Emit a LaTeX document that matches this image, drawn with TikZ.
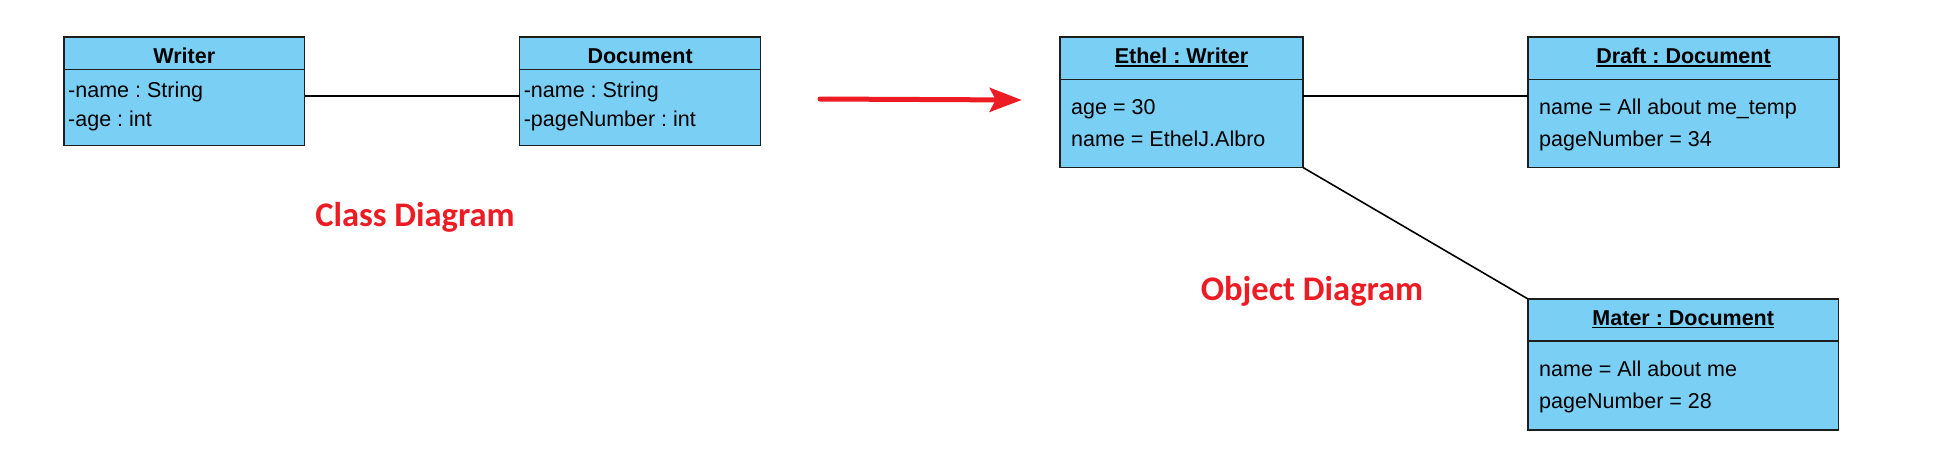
\documentclass[tikz,border=0pt]{standalone}
\usepackage{fontspec}
\setmainfont{Liberation Sans}
\newfontfamily\labelfont{Carlito}
\usetikzlibrary{arrows.meta}
\definecolor{umlblue}{RGB}{122,207,245}
\definecolor{boxdraw}{RGB}{30,30,30}
\definecolor{redc}{RGB}{237,28,36}
\tikzset{
 umlbox/.style={draw=boxdraw, fill=umlblue, line width=1.5pt, outer sep=0pt, inner sep=0pt, anchor=north west},
 divider/.style={draw=boxdraw, line width=1.5pt},
 ttl/.style={font=\frenchspacing\bfseries\fontsize{21.5}{25}\selectfont, inner sep=0pt, anchor=base},
 attr/.style={font=\frenchspacing\fontsize{21.5}{25}\selectfont, inner sep=0pt, anchor=base west},
 assoc/.style={draw=black, line width=1.6pt},
 ulin/.style={draw=black, line width=1.5pt},
 caption/.style={font=\labelfont\bfseries\fontsize{34.5}{40}\selectfont, text=redc, inner sep=0pt, anchor=base},
 convert/.style={draw=redc, line width=5pt, line cap=round, -{Stealth[length=32pt,width=24pt,inset=6pt]}}
}
\begin{document}
\begin{tikzpicture}[x=1pt,y=-1pt]
\useasboundingbox (0,0) rectangle (1949,451);
% ---- class diagram ----
\node[umlbox, minimum width=240.5pt, minimum height=108.5pt] (W) at (64,37) {};
\draw[divider] ([yshift=-32.5pt]W.north west) -- ([yshift=-32.5pt]W.north east);
\node[ttl] (Wt) at ([yshift=-26pt]W.north) {Writer};
\node[attr] (Wa1) at ([xshift=4pt,yshift=-60.3pt]W.north west) {-name : String};
\node[attr] (Wa2) at ([xshift=4pt,yshift=-89.5pt]W.north west) {-age : int};

\node[umlbox, minimum width=241pt, minimum height=108.5pt] (D) at (519.6,37) {};
\draw[divider] ([yshift=-32.5pt]D.north west) -- ([yshift=-32.5pt]D.north east);
\node[ttl] (Dt) at ([yshift=-26pt]D.north) {Document};
\node[attr] (Da1) at ([xshift=4pt,yshift=-60.3pt]D.north west) {-name : String};
\node[attr] (Da2) at ([xshift=4pt,yshift=-89.5pt]D.north west) {-pageNumber : int};

\draw[assoc] ([yshift=-5pt]W.east) -- ([yshift=-5pt]D.west);
\node[caption] (cd) at (415,226.7) {Class Diagram};

% ---- arrow ----
\coordinate (a1) at (820,99);
\coordinate (a2) at (1021.7,100);
\draw[convert] (a1) -- (a2);

% ---- object diagram ----
\node[umlbox, minimum width=243pt, minimum height=130.5pt] (E) at (1060,37) {};
\draw[divider] ([yshift=-42.5pt]E.north west) -- ([yshift=-42.5pt]E.north east);
\node[ttl] (Et) at ([yshift=-26.5pt]E.north) {Ethel : Writer};
\draw[ulin] ([yshift=-2.5pt]Et.base west) -- ([yshift=-2.5pt]Et.base east);
\node[attr] (Ea1) at ([xshift=11pt,yshift=-77.7pt]E.north west) {age = 30};
\node[attr] (Ea2) at ([xshift=11pt,yshift=-109.3pt]E.north west) {name = EthelJ.Albro};

\node[umlbox, minimum width=311pt, minimum height=130.5pt] (Dr) at (1528,37) {};
\draw[divider] ([yshift=-42.5pt]Dr.north west) -- ([yshift=-42.5pt]Dr.north east);
\node[ttl] (Drt) at ([yshift=-26.5pt]Dr.north) {Draft : Document};
\draw[ulin] ([yshift=-2.5pt]Drt.base west) -- ([yshift=-2.5pt]Drt.base east);
\node[attr] (Dra1) at ([xshift=11pt,yshift=-77.7pt]Dr.north west) {name = All about me\_temp};
\node[attr] (Dra2) at ([xshift=11pt,yshift=-109.3pt]Dr.north west) {pageNumber = 34};

\node[umlbox, minimum width=310.5pt, minimum height=131pt] (M) at (1528,299) {};
\draw[divider] ([yshift=-42pt]M.north west) -- ([yshift=-42pt]M.north east);
\node[ttl] (Mt) at ([yshift=-26pt]M.north) {Mater : Document};
\draw[ulin] ([yshift=-2.5pt]Mt.base west) -- ([yshift=-2.5pt]Mt.base east);
\node[attr] (Ma1) at ([xshift=11pt,yshift=-77.7pt]M.north west) {name = All about me};
\node[attr] (Ma2) at ([xshift=11pt,yshift=-109.3pt]M.north west) {pageNumber = 28};

\draw[assoc] ([yshift=6pt]E.east) -- ([yshift=6pt]Dr.west);
\draw[assoc] (E.south east) -- (M.north west);
\node[caption] (od) at (1312,300) {Object Diagram};
\end{tikzpicture}
\end{document}
